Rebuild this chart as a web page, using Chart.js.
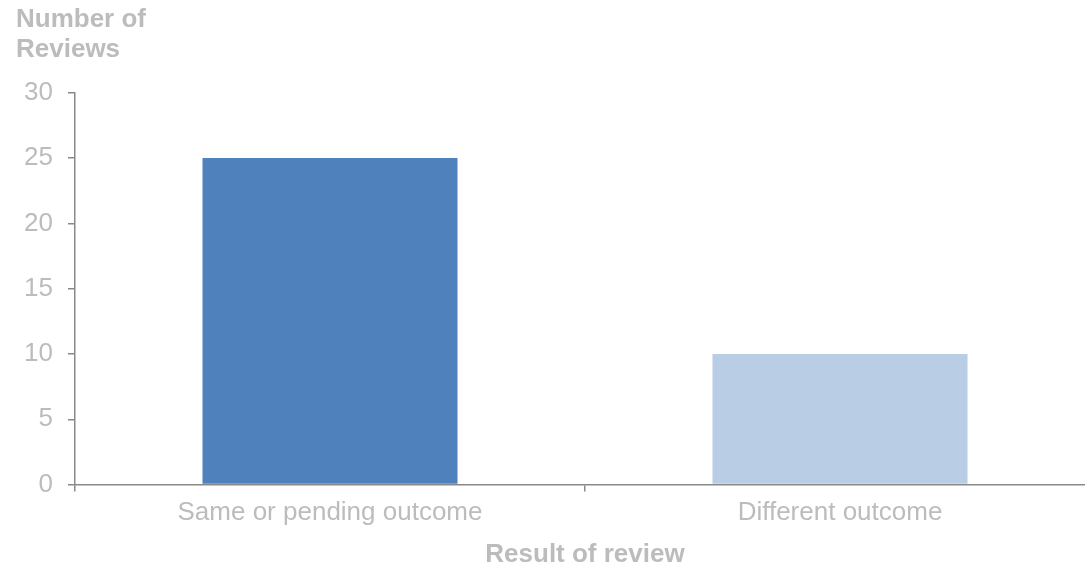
<!DOCTYPE html>
<html>
<head>
<meta charset="utf-8">
<script src="https://cdn.jsdelivr.net/npm/chart.js@4"></script>
<style>
  body { margin: 0; background: #fff; overflow: hidden; }
  #wrap { width: 1100px; height: 564px; }
</style>
</head>
<body>
<div id="wrap"><canvas id="myChart"></canvas></div>
<script>
var categories = ["Same or pending outcome", "Different outcome"];
var reviews = [25, 10];
var barColors = ["#4f81bd", "#b9cde5"];
var yTicks = [0, 5, 10, 15, 20, 25, 30];

var textGrey = "#bcbcbc";
var axisGrey = "#898989";
var fontName = "'Liberation Sans', Arial, sans-serif";

new Chart("myChart", {
  type: "bar",
  data: {
    labels: categories,
    datasets: [{
      data: reviews,
      backgroundColor: barColors,
      categoryPercentage: 1,
      barPercentage: 0.5
    }]
  },
  options: {
    responsive: true,
    maintainAspectRatio: false,
    animation: false,
    layout: { padding: { left: 16, right: 5, top: 0, bottom: -6 } },
    plugins: {
      legend: { display: false },
      tooltip: { enabled: false },
      title: {
        display: true,
        text: ["Number of", "Reviews"],
        align: "start",
        color: textGrey,
        font: { family: fontName, size: 26, weight: "bold", lineHeight: 1.15 },
        padding: { top: 5, bottom: 28 }
      }
    },
    scales: {
      x: {
        grid: {
          offset: true,
          drawOnChartArea: false,
          drawTicks: true,
          tickLength: 7,
          color: axisGrey,
          lineWidth: 1.5
        },
        border: { color: axisGrey, width: 1.5 },
        ticks: {
          color: textGrey,
          font: { family: fontName, size: 26 },
          padding: 6,
          maxRotation: 0
        },
        title: {
          display: true,
          text: "Result of review",
          color: textGrey,
          font: { family: fontName, size: 26, weight: "bold" },
          padding: { top: 4, bottom: 0 }
        }
      },
      y: {
        min: yTicks[0],
        max: yTicks[yTicks.length - 1],
        afterFit: function (scale) { scale.width = 59; },
        afterBuildTicks: function (scale) {
          scale.ticks = yTicks.map(function (v) { return { value: v }; });
        },
        grid: {
          drawOnChartArea: false,
          drawTicks: true,
          tickLength: 7,
          color: axisGrey,
          lineWidth: 1.5
        },
        border: { color: axisGrey, width: 1.5 },
        ticks: {
          color: textGrey,
          font: { family: fontName, size: 26 },
          padding: 15
        }
      }
    }
  }
});
</script>
</body>
</html>
